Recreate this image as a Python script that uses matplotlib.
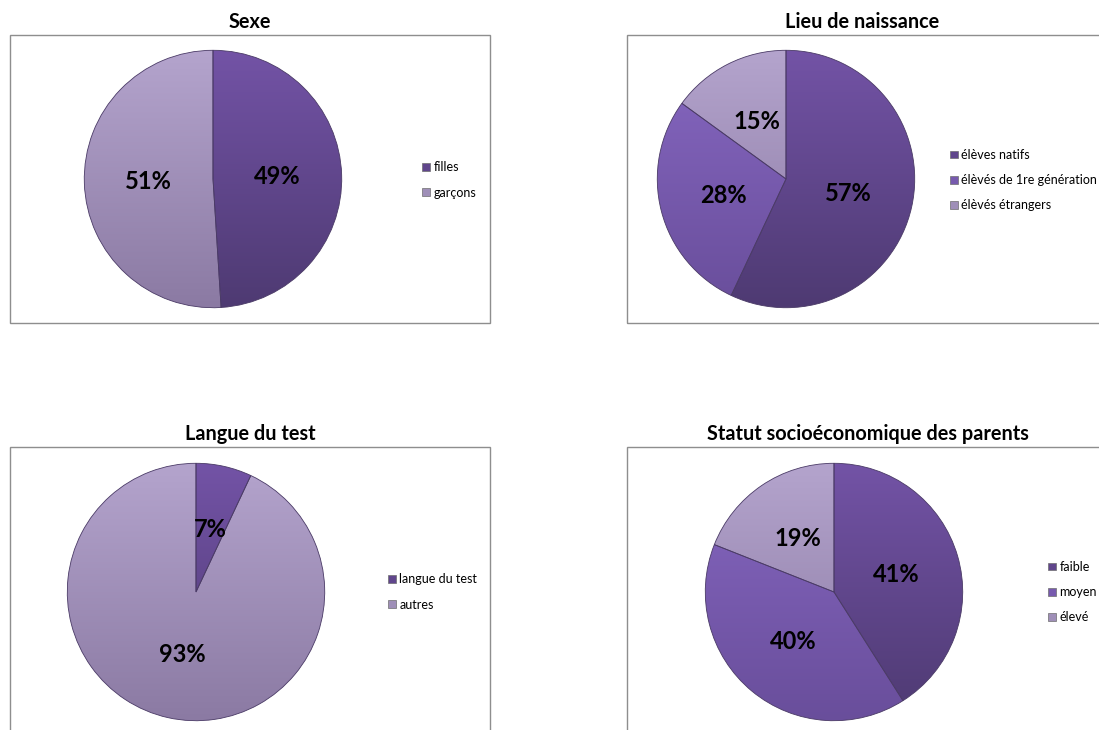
import numpy as np
import matplotlib.pyplot as plt
from matplotlib.patches import Rectangle
from matplotlib.colors import LinearSegmentedColormap

# (top colour, bottom colour) for the soft vertical shading
DARK = ("#7353a6", "#4e3a72")
MID = ("#8667c1", "#694e9b")
LIGHT = ("#b4a4cd", "#8b7aa3")

W, H = 1099, 730

# --- data ---
sexe_labels = ["filles", "garçons"]
sexe_values = [49, 51]

lieu_labels = ["élèves natifs", "élèvés de 1re génération", "élèvés étrangers"]
lieu_values = [57, 28, 15]

langue_labels = ["langue du test", "autres"]
langue_values = [7, 93]

statut_labels = ["faible", "moyen", "élevé"]
statut_values = [41, 40, 19]

titles = ["Sexe", "Lieu de naissance", "Langue du test",
          "Statut socioéconomique des parents"]


def px_axes(fig, x0, y0, w, h):
    # axes from pixel box (top-left origin)
    return fig.add_axes([x0 / W, 1 - (y0 + h) / H, w / W, h / H])


def draw_panel(fig, frame, title_x, title, pie_c, labels, values, shades, leg_xy):
    fx0, fy0, fx1, fy1 = frame
    fig.patches.append(Rectangle((fx0 / W, 1 - fy1 / H), (fx1 - fx0) / W,
                                 (fy1 - fy0) / H, transform=fig.transFigure,
                                 fill=False, edgecolor="#8e8e8e", linewidth=1.0))
    fig.text(title_x / W, 1 - (fy0 - 13) / H, title, ha="center", va="center",
             fontsize=14.3, fontweight="bold", family="Lato")

    cx, cy = pie_c
    r = 130
    ax = px_axes(fig, cx - r, cy - r, 2 * r, 2 * r)
    mids = [s[0] for s in shades]
    wedges, texts, autotexts = ax.pie(
        values, colors=mids, startangle=90, counterclock=False,
        autopct="%1.0f%%", pctdistance=0.5,
        wedgeprops=dict(edgecolor="#4a3a66", linewidth=0.6),
        textprops=dict(fontsize=17, fontweight="bold", family="Lato",
                       color="black", zorder=5))

    grad = np.linspace(0, 1, 256).reshape(-1, 1)
    for w, (top, bot) in zip(wedges, shades):
        cmap = LinearSegmentedColormap.from_list("g", [top, bot])
        im = ax.imshow(grad, cmap=cmap, extent=(-1, 1, -1, 1), aspect="auto",
                       zorder=1.5, origin="upper")
        im.set_clip_path(w)
        w.set_facecolor("none")
        w.set_zorder(2)
    ax.set_xlim(-1.01, 1.01)
    ax.set_ylim(-1.01, 1.01)
    ax.axis("off")

    # legend squares take the middle tone
    lx, ly = leg_xy
    handles = [Rectangle((0, 0), 1, 1, facecolor=LinearSegmentedColormap.from_list(
        "g", s)(0.5), edgecolor="#6e6e6e", linewidth=0.5) for s in shades]
    fig.legend(handles, labels, loc="center left",
               bbox_to_anchor=(lx / W, 1 - ly / H), frameon=False,
               prop=dict(family="Lato", size=9),
               handlelength=0.6, handleheight=0.6, handletextpad=0.3,
               labelspacing=1.05, borderpad=0, borderaxespad=0)


fig = plt.figure(figsize=(W / 100, H / 100), dpi=100)

draw_panel(fig, (10, 35, 490, 323), 250, titles[0], (213, 179),
           sexe_labels, sexe_values, [DARK, LIGHT], (422, 180))
draw_panel(fig, (627, 35, 1110, 323), 862, titles[1], (786, 179),
           lieu_labels, lieu_values, [DARK, MID, LIGHT], (950, 180))
draw_panel(fig, (10, 447, 490, 740), 250, titles[2], (196, 592),
           langue_labels, langue_values, [DARK, LIGHT], (388, 592))
draw_panel(fig, (627, 447, 1110, 740), 868, titles[3], (834, 592),
           statut_labels, statut_values, [DARK, MID, LIGHT], (1048, 592))

fig.savefig("out.png", dpi=100)
